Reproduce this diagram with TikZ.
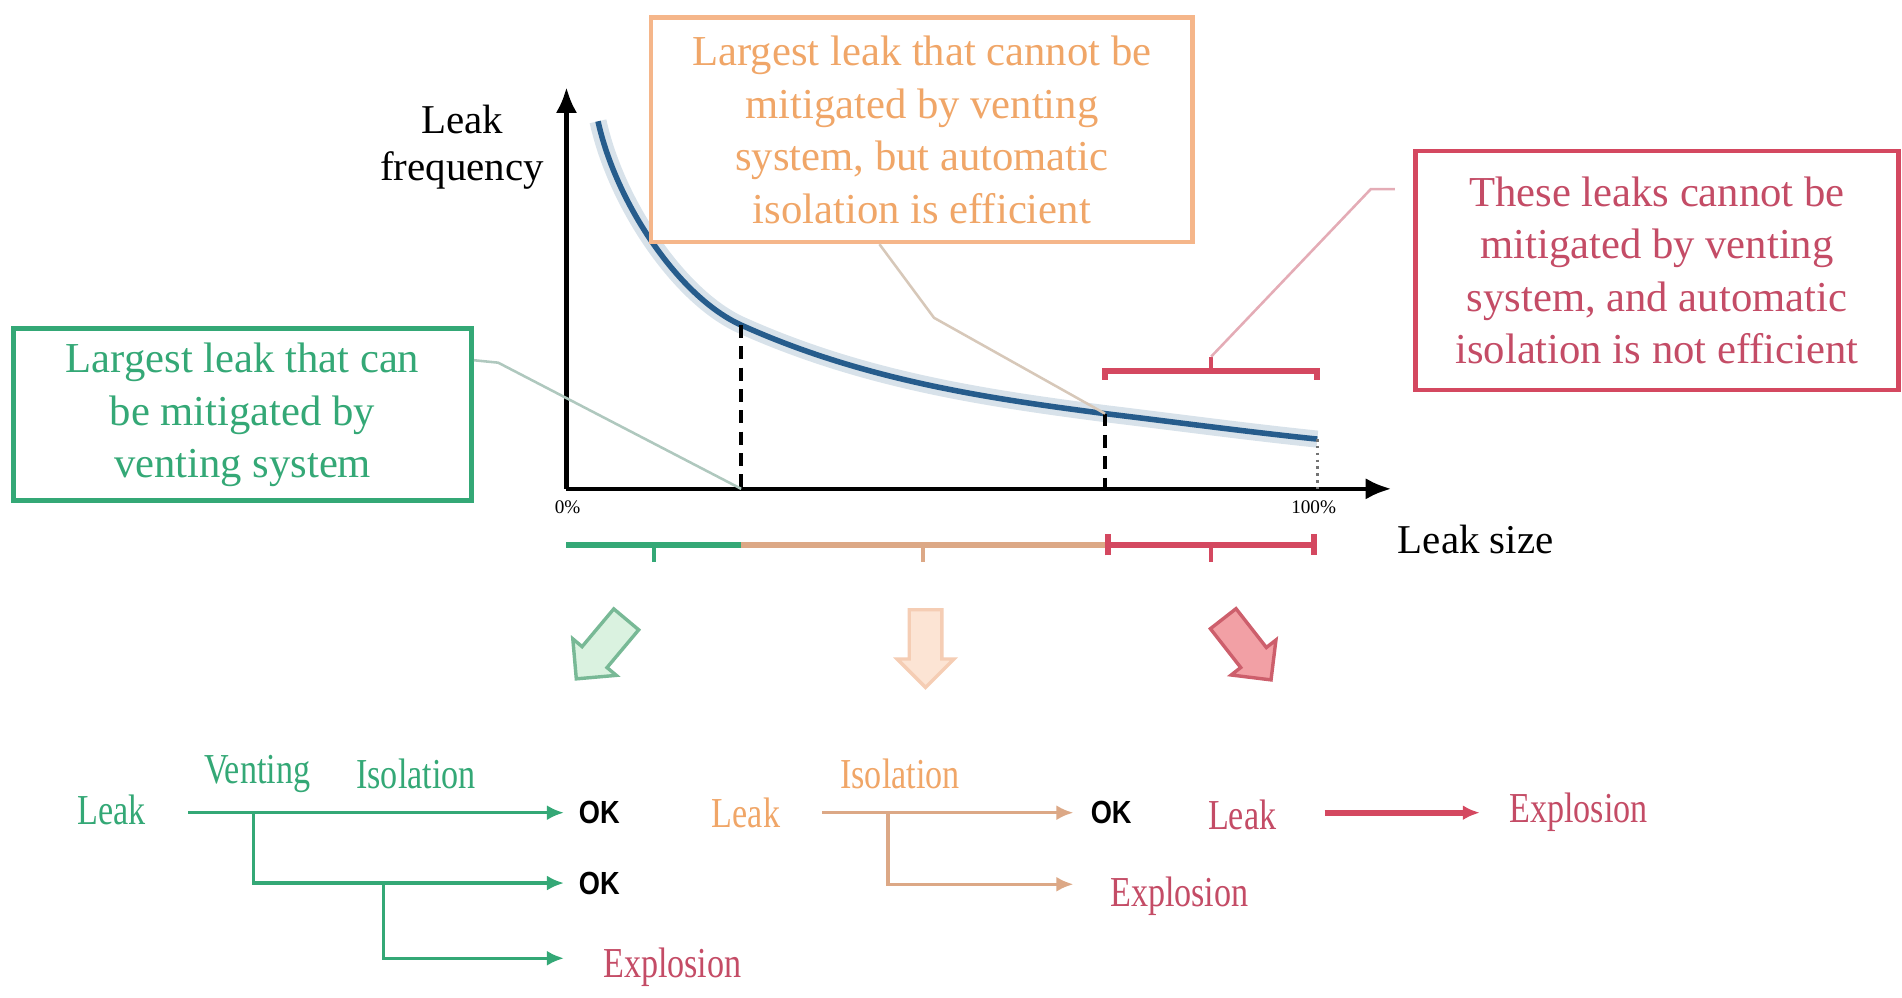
\documentclass[tikz,border=0pt]{standalone}
\usepackage{fontspec}
\setmainfont{Liberation Serif}
\newfontfamily\treefont[FakeStretch=0.8]{Liberation Serif}
\newfontfamily\okfont[FakeStretch=0.85]{Liberation Sans}
\usepackage{xcolor}
\usetikzlibrary{arrows.meta,positioning,calc,shapes.arrows}

\definecolor{ventgreen}{RGB}{52,168,118}
\definecolor{ventcall}{RGB}{175,200,190}
\definecolor{ventarrow}{RGB}{120,185,150}
\definecolor{ventarrowfill}{RGB}{218,242,224}
\definecolor{isoorange}{RGB}{240,166,104}
\definecolor{isoborder}{RGB}{245,182,138}
\definecolor{isotan}{RGB}{220,168,134}
\definecolor{isocall}{RGB}{215,200,185}
\definecolor{isoarrow}{RGB}{245,205,180}
\definecolor{isoarrowfill}{RGB}{252,228,212}
\definecolor{boomred}{RGB}{212,72,96}
\definecolor{boomtext}{RGB}{196,76,102}
\definecolor{boomcall}{RGB}{228,172,182}
\definecolor{boomarrow}{RGB}{205,95,108}
\definecolor{boomarrowfill}{RGB}{242,160,165}
\definecolor{curveblue}{RGB}{38,92,140}

\begin{document}
\begin{tikzpicture}[
    x=0.01cm, y=-0.01cm,
    note/.style={rectangle, draw, line width=1pt, align=center, fill=white,
                 font=\fontsize{10}{12.3}\selectfont},
    axisline/.style={line width=1pt, -{Latex[length=6pt,width=5pt]}},
    axislabel/.style={align=center, font=\fontsize{9.6}{11}\selectfont},
    limit/.style={line width=1pt, dash pattern=on 3pt off 2pt},
    callout/.style={line width=0.6pt},
    bar/.style={line width=1.4pt},
    treeline/.style={line width=0.8pt, -{Latex[length=4pt,width=3.5pt]}},
    treelabel/.style={font=\treefont\fontsize{10}{12}\selectfont, inner sep=1pt},
    oklabel/.style={font=\okfont\bfseries\fontsize{7.5}{9}\selectfont, inner sep=1pt},
    bigarrow/.style={single arrow, draw, line width=0.8pt, minimum height=0.64cm,
                     single arrow head extend=0.1cm, inner sep=0.12cm}
]
\useasboundingbox (0,0) rectangle (1568,822);

    % Axes
    \coordinate (O) at (467,403);
    \coordinate (xtip) at (1147,403);
    \coordinate (ytip) at (467,72);
    \draw[axisline] (O) -- (xtip);
    \draw[axisline] (O) -- (ytip);
    \node[font=\fontsize{4.5}{5}\selectfont] (zero) at (468,418) {0\%};
    \node[font=\fontsize{4.5}{5}\selectfont] (full) at (1083,418) {100\%};
    \node[axislabel] (freq) at (381,121) {Leak\\frequency};
    \node[axislabel, anchor=west] (size) at (1140,445) {Leak size};

    % Frequency curve
    \coordinate (cstart) at (493,100);
    \coordinate (cvent) at (611,268);
    \coordinate (ciso) at (911,341);
    \coordinate (cend) at (1086,362);
    \draw[curveblue, line width=1.3pt, preaction={draw=curveblue!18, line width=4pt}]
        (cstart) .. controls (508,168) and (560,245) .. (cvent)
                 .. controls (711,313) and (811,328) .. (ciso)
                 .. controls (969,348) and (1028,356) .. (cend);

    % Limits
    \draw[limit] (cvent) -- (cvent |- O);
    \draw[limit] (ciso) -- (ciso |- O);
    \draw[black!55, densely dotted, line width=0.6pt] (cend) -- (cend |- O);

    %--- Ranges under the axis ---
    \coordinate (b0) at (467,449);
    \coordinate (b1) at (611,449);
    \coordinate (b2) at (911,449);
    \coordinate (b3) at (1086,449);
    \draw[bar, ventgreen] (b0) -- (b1);
    \draw[ventgreen, line width=1pt] ($(b0)!0.5!(b1)$) -- ++(0,14);
    \draw[bar, isotan] (b1) -- (b2);
    \draw[isotan, line width=1pt] ($(b1)!0.5!(b2)$) -- ++(0,14);
    \draw[bar, boomred, {Bar[width=5pt]}-{Bar[width=5pt]}] (b2) -- (b3);
    \draw[boomred, line width=1pt] ($(b2)!0.5!(b3)$) -- ++(0,14);

    % Red range above the curve
    \coordinate (t0) at (911,306);
    \coordinate (t1) at (1086,306);
    \coordinate (tmid) at ($(t0)!0.5!(t1)+(0,-12)$);
    \draw[bar, boomred] ($(t0)+(0,7)$) -- (t0) -- (t1) -- ++(0,7);
    \draw[boomred, line width=1pt] ($(t0)!0.5!(t1)$) -- (tmid);

    %--- Notes ---
    \node[note, draw=ventgreen, text=ventgreen, line width=1.2pt,
          minimum width=3.77cm, minimum height=1.41cm] (ventbox) at (200,342)
          {Largest leak that can\\be mitigated by\\venting system};
    \node[note, draw=isoborder, text=isoorange,
          minimum width=4.46cm, minimum height=1.85cm] (isobox) at (760,107)
          {Largest leak that cannot be\\mitigated by venting\\system, but automatic\\isolation is efficient};
    \node[note, draw=boomred, text=boomtext,
          minimum width=3.98cm, minimum height=1.97cm] (boombox) at (1366,223)
          {These leaks cannot be\\mitigated by venting\\system, and automatic\\isolation is not efficient};

    % Callout lines
    \coordinate (ik) at (770,262);
    \coordinate (rk) at (1130,156);
    \coordinate (rend) at (1150,156);
    \draw[callout, ventcall] (ventbox.east |- 0,297) -- ++(20,2) -- (cvent |- O);
    \draw[callout, isocall] (isobox.south -| 725,0) -- (ik) -- (ciso);
    \draw[callout, boomcall] (tmid) -- (rk) -- (rend);

    %--- Block arrows ---
    \node[bigarrow, draw=ventarrow, fill=ventarrowfill, rotate=230] (ventdown) at (500,530) {};
    \node[bigarrow, draw=isoarrow, fill=isoarrowfill, rotate=270] (isodown) at (763,528) {};
    \node[bigarrow, draw=boomarrow, fill=boomarrowfill, rotate=308] (boomdown) at (1024,530) {};

    %--- Event tree: venting + isolation ---
    \node[treelabel, text=ventgreen] (gleak) at (92,668) {Leak};
    \node[treelabel, text=ventgreen] (gvent) at (212,638) {Venting};
    \node[treelabel, text=ventgreen] (giso) at (343,638) {Isolation};
    \coordinate (g0) at (155,670);
    \coordinate (gv) at (209,670);
    \coordinate (gi) at (316,728);
    \coordinate (ge1) at (465,670);
    \coordinate (ge2) at (465,728);
    \coordinate (ge3) at (465,790);
    \node[oklabel, right=0.08cm of ge1] (gok1) {OK};
    \node[oklabel, right=0.08cm of ge2] (gok2) {OK};
    \node[treelabel, text=boomtext, right=0.28cm of ge3, yshift=-0.07cm] (gboom) {Explosion};
    \draw[treeline, ventgreen] (g0) -- (ge1);
    \draw[treeline, ventgreen] (gv) |- (ge2);
    \draw[treeline, ventgreen] (gi) |- (ge3);

    %--- Event tree: isolation only ---
    \node[treelabel, text=isoorange] (oleak) at (615,670) {Leak};
    \node[treelabel, text=isoorange] (oiso) at (742,638) {Isolation};
    \coordinate (o0) at (678,670);
    \coordinate (oi) at (732,670);
    \coordinate (oe1) at (885,670);
    \coordinate (oe2) at (885,729);
    \node[oklabel, right=0.1cm of oe1] (ook) {OK};
    \node[treelabel, text=boomtext, right=0.26cm of oe2, yshift=-0.1cm] (oboom) {Explosion};
    \draw[treeline, isotan] (o0) -- (oe1);
    \draw[treeline, isotan] (oi) |- (oe2);

    %--- Event tree: no barrier ---
    \node[treelabel, text=boomtext] (rleak) at (1024,672) {Leak};
    \coordinate (r0) at (1092,670);
    \coordinate (re) at (1220,670);
    \node[treelabel, text=boomtext, right=0.2cm of re] (rboom) {Explosion};
    \draw[treeline, boomred, line width=1.5pt] (r0) -- (re);

\end{tikzpicture}
\end{document}
